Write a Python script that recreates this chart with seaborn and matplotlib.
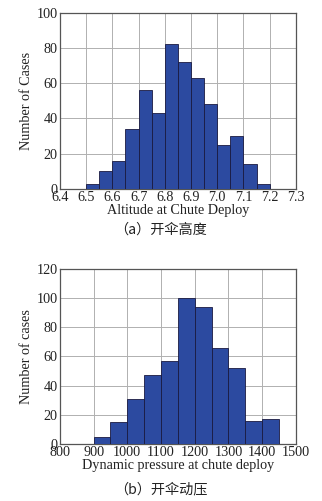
import numpy as np
import pandas as pd
import matplotlib
matplotlib.use("Agg")
import matplotlib.pyplot as plt
import seaborn as sns
from matplotlib.ticker import MultipleLocator

sns.set_theme(style="white")
plt.rcParams['font.family'] = ['Liberation Serif', 'Noto Sans CJK SC', 'DejaVu Sans']
plt.rcParams['mathtext.fontset'] = 'stix'

# Panel (a): altitude at chute deploy
alt_edges = [6.50, 6.55, 6.60, 6.65, 6.70, 6.75, 6.80, 6.85, 6.90, 6.95, 7.00, 7.05, 7.10, 7.15, 7.20]
alt_counts = [3, 10, 16, 34, 56, 43, 82, 72, 63, 48, 25, 30, 14, 3]
alt_ticks = [6.4, 6.5, 6.6, 6.7, 6.8, 6.9, 7.0, 7.1, 7.2, 7.3]

# Panel (b): dynamic pressure at chute deploy
dp_edges = [900, 950, 1000, 1050, 1100, 1150, 1200, 1250, 1300, 1350, 1400, 1450]
dp_counts = [5, 15, 31, 47, 57, 100, 94, 66, 52, 16, 17]
dp_ticks = [800, 900, 1000, 1100, 1200, 1300, 1400, 1500]

bar_color = '#2c4aa0'
fs = 10.2

fig = plt.figure(figsize=(3.22, 5.01), dpi=100)
ax1 = fig.add_axes([0.186, 0.623, 0.733, 0.352])
ax2 = fig.add_axes([0.186, 0.114, 0.733, 0.349])

def draw(ax, edges, counts, ticks, ymax, ystep, xlabel, ylabel, caption, cap_y, xminor):
    e = np.array(edges, dtype=float)
    df = pd.DataFrame({'x': (e[:-1] + e[1:]) / 2, 'w': counts})
    sns.histplot(data=df, x='x', weights='w', bins=list(edges), ax=ax, color=bar_color,
                 alpha=1.0, edgecolor='#1a1a40', linewidth=0.6, zorder=3)
    ax.set_xlim(ticks[0], ticks[-1])
    ax.set_ylim(0, ymax)
    ax.set_xticks(ticks)
    ax.set_xticklabels([f"{t:.1f}" if isinstance(t, float) else str(t) for t in ticks], fontsize=fs)
    ax.yaxis.set_major_locator(MultipleLocator(ystep))
    ax.yaxis.set_minor_locator(MultipleLocator(ystep / 2))
    ax.xaxis.set_minor_locator(MultipleLocator(xminor))
    ax.tick_params(axis='both', which='major', direction='in', length=3, width=0.6,
                   labelsize=fs, pad=1.5, colors='#333333', labelcolor='#222222')
    ax.tick_params(axis='both', which='minor', direction='in', length=1.5, width=0.6, colors='#333333')
    ax.tick_params(top=False, right=False, which='both')
    ax.grid(True, which='major', color='#b0b0b0', linewidth=0.7, zorder=0)
    ax.set_axisbelow(True)
    for s in ax.spines.values():
        s.set_visible(True)
        s.set_color('#555555')
        s.set_linewidth(0.9)
    ax.set_xlabel(xlabel, fontsize=fs, labelpad=0, color='#222222')
    ax.set_ylabel(ylabel, fontsize=fs, labelpad=3, color='#222222')
    fig.text(0.5, cap_y, caption, ha='center', va='center', fontsize=fs, color='#222222',
             family=['Noto Sans CJK SC', 'DejaVu Sans'])

draw(ax1, alt_edges, alt_counts, alt_ticks, 100, 20,
     'Altitude at Chute Deploy', 'Number of Cases', '（a）开伞高度', 1 - 230 / 501, 0.05)
draw(ax2, dp_edges, dp_counts, dp_ticks, 120, 20,
     'Dynamic pressure at chute deploy', 'Number of cases', '（b）开伞动压', 1 - 489 / 501, 50)

fig.savefig('out.png', dpi=100)
